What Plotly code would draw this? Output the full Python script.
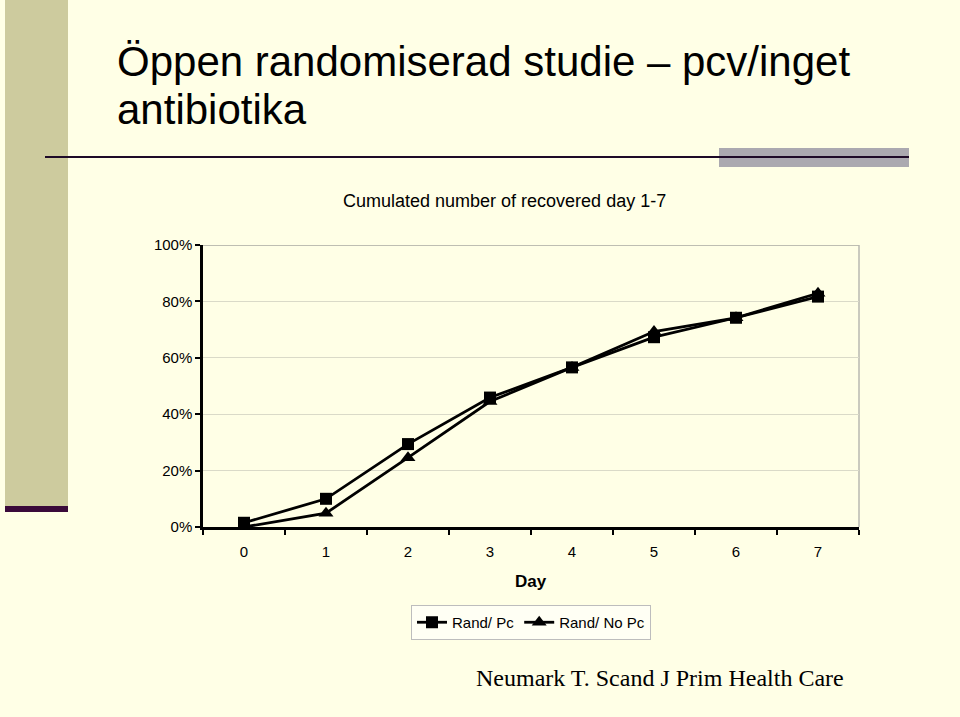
import plotly.graph_objects as go

# ---- data ----
days = ["0", "1", "2", "3", "4", "5", "6", "7"]
rand_pc = [0.015, 0.10, 0.294, 0.459, 0.566, 0.673, 0.742, 0.817]
rand_no_pc = [0.0, 0.049, 0.246, 0.445, 0.566, 0.693, 0.742, 0.829]
y_ticks = [0, 0.2, 0.4, 0.6, 0.8, 1.0]

title_lines = ["Öppen randomiserad studie – pcv/inget", "antibiotika"]
chart_title = "Cumulated number of recovered day 1-7"
x_title = "Day"
citation = "Neumark T. Scand J Prim Health Care"

W, H = 960, 717
BG = "#FFFFE6"
FONT = "Arial, Liberation Sans, sans-serif"


def px(x):
    return x / W


def py(y):
    return 1 - y / H


fig = go.Figure()
fig.add_trace(go.Scatter(
    x=days, y=rand_pc, name="Rand/ Pc", mode="lines+markers",
    line=dict(color="black", width=2.8),
    marker=dict(symbol="square", size=12, color="black"),
))
fig.add_trace(go.Scatter(
    x=days, y=rand_no_pc, name="Rand/ No Pc", mode="lines+markers",
    line=dict(color="black", width=2.8),
    marker=dict(symbol="triangle-up", size=13, color="black"),
))

shapes = [
    # left decorative bar
    dict(type="rect", xref="paper", yref="paper", x0=px(5), x1=px(68), y0=py(506), y1=py(0),
         fillcolor="#CDCB9E", line=dict(width=0), layer="below"),
    dict(type="rect", xref="paper", yref="paper", x0=px(5), x1=px(68), y0=py(512), y1=py(506),
         fillcolor="#3A0A3A", line=dict(width=0), layer="below"),
    # grey box right of title rule
    dict(type="rect", xref="paper", yref="paper", x0=px(719), x1=px(909), y0=py(167), y1=py(148),
         fillcolor="#ABA9B0", line=dict(width=0), layer="below"),
    # title rule
    dict(type="line", xref="paper", yref="paper", x0=px(45), x1=px(909), y0=py(157), y1=py(157),
         line=dict(color="#1E0A28", width=2), layer="below"),
    # top gridline at 100% and right border of plot area
    dict(type="line", xref="x domain", yref="y", x0=0, x1=1, y0=1, y1=1,
         line=dict(color="#A8A8A0", width=1.5), layer="below"),
    dict(type="line", xref="x domain", yref="y domain", x0=1, x1=1, y0=0, y1=1,
         line=dict(color="#B8B8B0", width=1.5), layer="below"),
]

annotations = [
    dict(text=title_lines[0], x=px(115), y=py(61), xref="paper", yref="paper",
         xanchor="left", yanchor="middle", showarrow=False,
         font=dict(family=FONT, size=42, color="black")),
    dict(text=title_lines[1], x=px(115), y=py(109), xref="paper", yref="paper",
         xanchor="left", yanchor="middle", showarrow=False,
         font=dict(family=FONT, size=42, color="black")),
    dict(text=chart_title, x=px(504), y=py(201), xref="paper", yref="paper",
         xanchor="center", yanchor="middle", showarrow=False,
         font=dict(family=FONT, size=18, color="black")),
    dict(text="<b>" + x_title + "</b>", x=px(531), y=py(581), xref="paper", yref="paper",
         xanchor="center", yanchor="middle", showarrow=False,
         font=dict(family=FONT, size=17, color="black")),
    dict(text=citation, x=px(474), y=py(678), xref="paper", yref="paper",
         xanchor="left", yanchor="middle", showarrow=False,
         font=dict(family="Times New Roman, Liberation Serif, serif", size=24, color="black")),
]

fig.update_layout(
    width=W, height=H,
    margin=dict(l=0, r=0, t=0, b=0, pad=0, autoexpand=False),
    paper_bgcolor=BG, plot_bgcolor=BG,
    font=dict(family=FONT, size=15, color="black"),
    showlegend=True,
    legend=dict(orientation="h", x=px(531), y=py(605), xanchor="center", yanchor="top",
                bgcolor="#FFFFF4", bordercolor="#BDBDBD", borderwidth=1,
                font=dict(family=FONT, size=15, color="black"),
                itemwidth=30, tracegroupgap=0),
    shapes=shapes,
    annotations=annotations,
    xaxis=dict(
        domain=[px(203), px(859)], type="category", categoryorder="array", categoryarray=days,
        range=[-0.5, 7.5], tickson="boundaries", ticks="outside", ticklen=5, tickwidth=2,
        tickcolor="black", showline=True, linecolor="black", linewidth=2.5, showgrid=False,
        zeroline=False, tickfont=dict(family=FONT, size=15, color="black"), fixedrange=True,
        ticklabelstandoff=9, automargin=False,
    ),
    yaxis=dict(
        domain=[py(527), py(245)], range=[0, 1], tickvals=y_ticks, tickformat=".0%",
        ticks="outside", ticklen=5, tickwidth=2, tickcolor="black",
        showline=True, linecolor="black", linewidth=2.5,
        showgrid=True, gridcolor="#DADAC8", gridwidth=1, zeroline=False,
        tickfont=dict(family=FONT, size=15, color="black"), fixedrange=True, automargin=False,
    ),
)

fig.write_html("out.html", config={"displayModeBar": False},
               post_script="document.body.style.margin='0';")
